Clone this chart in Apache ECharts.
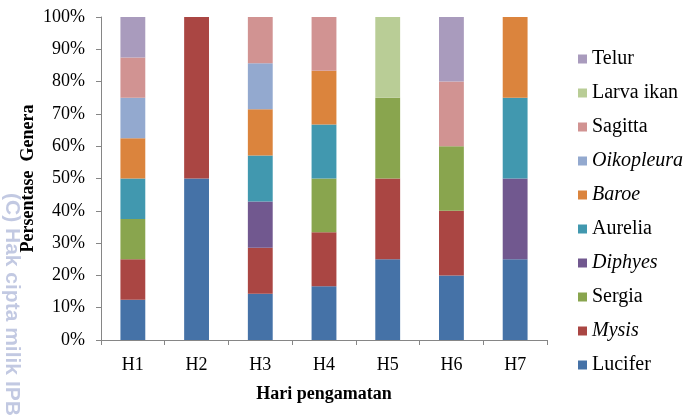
<!DOCTYPE html>
<html>
<head>
<meta charset="utf-8">
<script src="https://cdn.jsdelivr.net/npm/echarts@6/dist/echarts.min.js"></script>
<style>
html,body{margin:0;padding:0;background:#fff;}
#c{width:690px;height:418px;}
</style>
</head>
<body>
<div id="c"></div>
<script>
const categories = ['H1','H2','H3','H4','H5','H6','H7'];
const yTicks = [0,10,20,30,40,50,60,70,80,90,100];
const seriesNames = ['Lucifer','Mysis','Sergia','Diphyes','Aurelia','Baroe','Oikopleura','Sagitta','Larva ikan','Telur'];
const lucifer    = [12.5, 50, 14.29, 16.67, 25, 20, 25];
const mysis      = [12.5, 50, 14.29, 16.67, 25, 20, 0];
const sergia     = [12.5, 0, 0, 16.67, 25, 20, 0];
const diphyes    = [0, 0, 14.29, 0, 0, 0, 25];
const aurelia    = [12.5, 0, 14.28, 16.67, 0, 0, 25];
const baroe      = [12.5, 0, 14.28, 16.66, 0, 0, 25];
const oikopleura = [12.5, 0, 14.28, 0, 0, 0, 0];
const sagitta    = [12.5, 0, 14.29, 16.66, 0, 20, 0];
const larvaIkan  = [0, 0, 0, 0, 25, 0, 0];
const telur      = [12.5, 0, 0, 0, 0, 20, 0];
const seriesValues = [lucifer, mysis, sergia, diphyes, aurelia, baroe, oikopleura, sagitta, larvaIkan, telur];
const colors = ['#4572A7','#AA4643','#89A54E','#71588F','#4198AF','#DB843D','#93A9CF','#D19392','#B9CD96','#A99BBD'];
const italicNames = ['Mysis','Diphyes','Baroe','Oikopleura'];

const serif = 'Liberation Serif';
const legendFont = '"Times New Roman", "Liberation Serif", serif';
const chart = echarts.init(document.getElementById('c'));
chart.setOption({
  backgroundColor: '#fff',
  animation: false,
  textStyle: { fontFamily: serif },
  graphic: [{
    type: 'text', z: -10, x: 12, y: 193, rotation: -Math.PI/2,
    style: { text: '(C) Hak cipta milik IPB (Institut Pertanian Bogor)', fill: 'rgba(120,135,190,0.45)',
      font: 'bold 21px "Liberation Sans", Arial, sans-serif', textAlign: 'left', textVerticalAlign: 'middle' }
  }],
  grid: { left: 101, right: 143, top: 17, bottom: 78, containLabel: false },
  legend: {
    orient: 'vertical', left: 573, top: 44, itemWidth: 9, itemHeight: 9, itemGap: 14,
    icon: 'rect',
    data: seriesNames.slice().reverse().map(n => ({
      name: n,
      textStyle: { fontFamily: legendFont, fontSize: 20, color: '#000', fontStyle: italicNames.includes(n) ? 'italic' : 'normal' }
    })),
    textStyle: { fontFamily: legendFont, fontSize: 20, color: '#000' }
  },
  xAxis: {
    type: 'category', data: categories,
    name: 'Hari pengamatan', nameLocation: 'middle', nameGap: 45,
    nameTextStyle: { fontFamily: serif, fontSize: 18, fontWeight: 'bold', color: '#000' },
    axisLine: { lineStyle: { color: '#868686' } },
    axisTick: { show: true, length: 5, lineStyle: { color: '#868686' } },
    axisLabel: { fontFamily: serif, fontSize: 18, color: '#000', margin: 16 }
  },
  yAxis: {
    type: 'value', min: yTicks[0], max: yTicks[yTicks.length-1], interval: 10,
    name: 'Persentase  Genera', nameLocation: 'middle', nameGap: 64, nameMoveOverlap: false,
    nameTextStyle: { fontFamily: serif, fontSize: 18, fontWeight: 'bold', color: '#000' },
    axisLine: { show: true, lineStyle: { color: '#868686' } },
    axisTick: { show: true, length: 5, lineStyle: { color: '#868686' } },
    splitLine: { show: false },
    axisLabel: { fontFamily: serif, fontSize: 18, color: '#000', margin: 16, formatter: '{value}%' }
  },
  series: seriesNames.map((n, i) => ({
    name: n, type: 'bar', stack: 'total', barWidth: '39%',
    data: seriesValues[i],
    itemStyle: { color: colors[i] }
  }))
});
</script>
</body>
</html>
